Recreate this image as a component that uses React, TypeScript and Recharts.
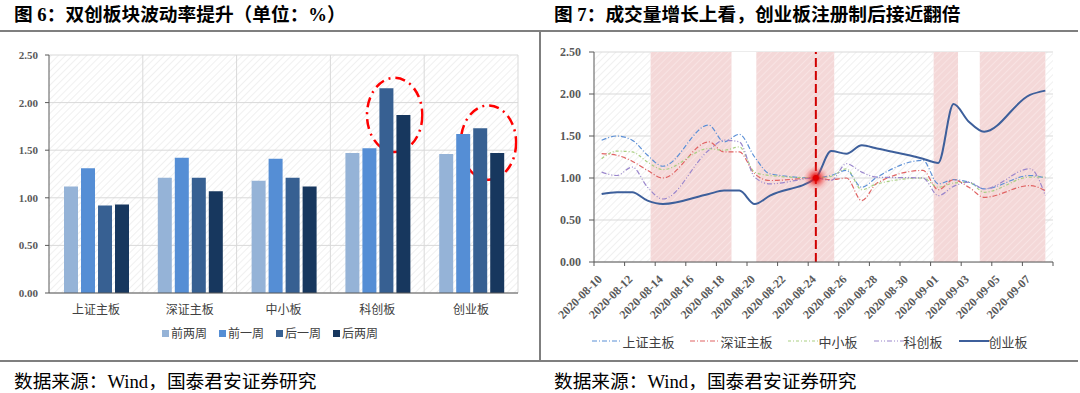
import React from 'react';
import {
  BarChart, Bar, LineChart, Line, XAxis, YAxis, CartesianGrid, Legend,
  ReferenceLine, ReferenceArea, ReferenceDot,
} from 'recharts';

const SERIF = "'Liberation Serif', 'Noto Sans CJK SC', serif";
const AXIS = '#595959';
const GRID = '#d9d9d9';

// ---------- Figure 6 data ----------
const boards = ['上证主板', '深证主板', '中小板', '科创板', '创业板'];
const weekLabels = ['前两周', '前一周', '后一周', '后两周'];
const weekColors = ['#95B3D7', '#558ED5', '#376092', '#17375E'];
const vol2WeeksBefore = [1.12, 1.21, 1.18, 1.47, 1.46];
const vol1WeekBefore = [1.31, 1.42, 1.41, 1.52, 1.67];
const vol1WeekAfter = [0.92, 1.21, 1.21, 2.15, 1.73];
const vol2WeeksAfter = [0.93, 1.07, 1.12, 1.87, 1.47];
const valueTicks = [0, 0.5, 1, 1.5, 2, 2.5];
const highlightBoards = ['科创板', '创业板'];
const highlightLow = [1.48, 1.19];
const highlightHigh = [2.26, 1.97];

const weekValues = [vol2WeeksBefore, vol1WeekBefore, vol1WeekAfter, vol2WeeksAfter];
const barData = boards.map((b, i) => {
  const row: any = { board: b };
  weekLabels.forEach((w, k) => { row[w] = weekValues[k][i]; });
  return row;
});

// ---------- Figure 7 data ----------
const tradeDates = [
  '2020-08-10', '2020-08-11', '2020-08-12', '2020-08-13', '2020-08-14',
  '2020-08-17', '2020-08-18', '2020-08-19', '2020-08-20', '2020-08-21',
  '2020-08-24', '2020-08-25', '2020-08-26', '2020-08-27', '2020-08-28',
  '2020-08-31', '2020-09-01', '2020-09-02', '2020-09-03', '2020-09-04',
  '2020-09-07', '2020-09-08',
];
const seriesNames = ['上证主板', '深证主板', '中小板', '科创板', '创业板'];
const shMain = [1.45, 1.50, 1.45, 1.27, 1.14, 1.63, 1.43, 1.52, 1.25, 1.05, 1.00, 1.03, 1.09, 0.89, 1.01, 1.21, 0.93, 0.98, 0.95, 0.87, 1.03, 1.00];
const szMain = [1.29, 1.27, 1.20, 1.09, 1.00, 1.43, 1.31, 1.31, 1.05, 0.97, 1.00, 0.98, 1.00, 0.73, 0.94, 1.09, 0.86, 0.98, 0.89, 0.77, 0.91, 0.85];
const smeBoard = [1.23, 1.32, 1.31, 1.19, 1.10, 1.35, 1.33, 1.37, 1.07, 1.03, 1.00, 1.02, 1.11, 0.86, 0.93, 1.00, 0.89, 0.94, 0.95, 0.83, 1.01, 1.01];
const starBoard = [1.07, 1.03, 1.13, 0.89, 0.75, 1.33, 1.45, 1.43, 1.01, 0.93, 1.00, 0.97, 1.17, 1.07, 1.01, 1.00, 0.79, 0.90, 0.95, 0.87, 1.11, 0.79];
const chiNext = [0.81, 0.83, 0.83, 0.73, 0.69, 0.81, 0.85, 0.85, 0.69, 0.79, 1.00, 1.32, 1.29, 1.39, 1.35, 1.23, 1.18, 1.88, 1.67, 1.55, 1.99, 2.04];
const seriesColors = ['#5B8FD6', '#E06262', '#A9CF82', '#9A86CC', '#3D5F9B'];
const seriesDash = ['5 2 1 2', '5 2 1 2', '3 2 1 2', '5 2 1 2 1 2', undefined];
const seriesWidth = [1.2, 1.2, 1.2, 1.2, 2];
const dateTickLabels = [
  '2020-08-10', '2020-08-12', '2020-08-14', '2020-08-16', '2020-08-18',
  '2020-08-20', '2020-08-22', '2020-08-24', '2020-08-26', '2020-08-28',
  '2020-08-30', '2020-09-01', '2020-09-03', '2020-09-05', '2020-09-07',
];
const eventDate = '2020-08-24';
const eventValue = 1.0;
// shaded periods, in days counted from 2020-08-10
const shadedFrom = [3.2, 10.1, 21.7, 24.7];
const shadedTo = [8.5, 15.2, 23.3, 29.0];
const plainFrom = [8.5, 23.3];
const plainTo = [10.1, 24.7];

const seriesValues = [shMain, szMain, smeBoard, starBoard, chiNext];
const BASE = new Date(tradeDates[0] + 'T00:00:00Z').getTime();
const dayOf = (s: string) => Math.round((new Date(s + 'T00:00:00Z').getTime() - BASE) / 86400000);
const labelDays = dateTickLabels.map(dayOf);
const boundaryDays = [...labelDays.map((d) => d - 0.5), labelDays[labelDays.length - 1] + 1.5];
const lineData = tradeDates.map((d, i) => {
  const row: any = { day: dayOf(d) };
  seriesNames.forEach((n, k) => { row[n] = seriesValues[k][i]; });
  return row;
});

// ---------- components ----------
const BarLegend = () => (
  <div style={{ display: 'flex', justifyContent: 'center', alignItems: 'center', height: 20, fontFamily: SERIF, fontSize: 12, color: '#404040' }}>
    {weekLabels.map((w, i) => (
      <span key={w} style={{ display: 'flex', alignItems: 'center', marginRight: i < weekLabels.length - 1 ? 12 : 0 }}>
        <span style={{ width: 7, height: 7, background: weekColors[i], marginRight: 2, display: 'inline-block' }} />
        {w}
      </span>
    ))}
  </div>
);

const LineLegend = () => (
  <div style={{ display: 'flex', justifyContent: 'center', alignItems: 'center', height: 20, fontFamily: SERIF, fontSize: 13, color: '#404040' }}>
    {seriesNames.map((n, i) => (
      <span key={n} style={{ display: 'flex', alignItems: 'center', marginRight: i < seriesNames.length - 1 ? 16 : 0 }}>
        <svg width={30} height={8} style={{ display: 'block' }}>
          <line x1={0} y1={4} x2={30} y2={4} stroke={seriesColors[i]} strokeWidth={seriesWidth[i]} strokeDasharray={seriesDash[i]} />
        </svg>
        {n}
      </span>
    ))}
  </div>
);

const DateTick = (props: any) => {
  const { x, y, payload } = props;
  const v = payload.value;
  if (!Number.isInteger(v)) {
    return <line x1={x} y1={y} x2={x} y2={y + 4} stroke={AXIS} strokeWidth={1} />;
  }
  const idx = labelDays.indexOf(v);
  const ay = y + 18;
  return (
    <text x={x + 1} y={ay} textAnchor="end" transform={`rotate(-45 ${x + 1} ${ay})`} fontSize={12} fontWeight="bold" fill={AXIS} fontFamily={SERIF}>
      {dateTickLabels[idx]}
    </text>
  );
};

const ellipseShape = (p: any) => (
  <ellipse
    cx={p.x + p.width * 0.685}
    cy={p.y + p.height / 2}
    rx={p.width * 0.295}
    ry={p.height / 2}
    fill="none"
    stroke="#FF0000"
    strokeWidth={2.5}
    strokeDasharray="10 5 2 5"
  />
);

const glowShape = (p: any) => (
  <g>
    <circle cx={p.cx} cy={p.cy} r={13} fill="url(#glowRed)" />
    <circle cx={p.cx} cy={p.cy} r={3} fill="#E00000" />
  </g>
);

const fmt = (v: number) => v.toFixed(2);

export default function App() {
  return (
    <div style={{ position: 'absolute', left: 0, top: 0, width: 1080, height: 393, background: '#fff', overflow: 'hidden' }}>
      <svg width={0} height={0} style={{ position: 'absolute' }}>
        <defs>
          <pattern id="hatchGray" width={5} height={5} patternUnits="userSpaceOnUse" patternTransform="rotate(45)">
            <rect width={5} height={5} fill="#ffffff" />
            <line x1={0} y1={0} x2={0} y2={5} stroke="#f0f0f0" strokeWidth={2} />
          </pattern>
          <pattern id="hatchPink" width={5} height={5} patternUnits="userSpaceOnUse" patternTransform="rotate(45)">
            <rect width={5} height={5} fill="#F4D8D8" />
            <line x1={0} y1={0} x2={0} y2={5} stroke="#F8E3E3" strokeWidth={2} />
          </pattern>
          <radialGradient id="glowRed">
            <stop offset="0%" stopColor="#E00000" stopOpacity={1} />
            <stop offset="30%" stopColor="#E81010" stopOpacity={0.75} />
            <stop offset="65%" stopColor="#F04040" stopOpacity={0.3} />
            <stop offset="100%" stopColor="#FF8080" stopOpacity={0} />
          </radialGradient>
        </defs>
      </svg>

      {/* titles */}
      <div style={{ position: 'absolute', left: 14, top: 5, fontFamily: SERIF, fontSize: 18.7, fontWeight: 'bold', lineHeight: '19px', color: '#000', whiteSpace: 'nowrap' }}>
        图 6：双创板块波动率提升（单位：%）
      </div>
      <div style={{ position: 'absolute', left: 554, top: 5, fontFamily: SERIF, fontSize: 18.7, fontWeight: 'bold', lineHeight: '19px', color: '#000', whiteSpace: 'nowrap' }}>
        图 7：成交量增长上看，创业板注册制后接近翻倍
      </div>

      {/* left chart */}
      <div style={{ position: 'absolute', left: 0, top: 0 }}>
        <BarChart width={540} height={361} data={barData} margin={{ top: 55, right: 22, bottom: 18, left: 8 }} barCategoryGap="16%" barGap={3}>
          <CartesianGrid vertical={false} stroke={GRID} fill="url(#hatchGray)" />
          {boards.map((b) => (
            <ReferenceLine key={b} x={b} position="end" stroke={GRID} />
          ))}
          <XAxis dataKey="board" tickLine={false} tickSize={0} tickMargin={12} height={30} axisLine={{ stroke: AXIS }} tick={{ fontSize: 12, fill: '#404040', fontFamily: SERIF }} interval={0} />
          <YAxis domain={[0, 2.5]} ticks={valueTicks} tickFormatter={fmt} width={41} tickSize={4} tickMargin={7} axisLine={{ stroke: AXIS }} tickLine={{ stroke: AXIS }} tick={{ fontSize: 11, fontWeight: 'bold', fill: AXIS, fontFamily: SERIF }} />
          {weekLabels.map((w, i) => (
            <Bar key={w} dataKey={w} fill={weekColors[i]} isAnimationActive={false} />
          ))}
          {highlightBoards.map((b, i) => (
            <ReferenceArea key={b} x1={b} x2={b} y1={highlightLow[i]} y2={highlightHigh[i]} shape={ellipseShape} />
          ))}
          <Legend verticalAlign="bottom" content={<BarLegend />} wrapperStyle={{ left: 0, width: 540 }} />
        </BarChart>
      </div>

      {/* right chart */}
      <div style={{ position: 'absolute', left: 540, top: 0 }}>
        <LineChart width={540} height={361} data={lineData} margin={{ top: 52, right: 27, bottom: 10, left: 10 }}>
          <CartesianGrid vertical={false} stroke={GRID} fill="url(#hatchGray)" />
          {shadedFrom.map((f, i) => (
            <ReferenceArea key={'s' + i} x1={f} x2={shadedTo[i]} fill="url(#hatchPink)" fillOpacity={1} stroke="none" />
          ))}
          {plainFrom.map((f, i) => (
            <ReferenceArea key={'p' + i} x1={f} x2={plainTo[i]} fill="#ffffff" fillOpacity={1} stroke="none" />
          ))}
          <XAxis dataKey="day" type="number" domain={[-0.5, 29.5]} ticks={[...boundaryDays, ...labelDays]} interval={0} tickLine={false} tickSize={0} tickMargin={0} height={69} axisLine={{ stroke: AXIS }} tick={<DateTick />} allowDataOverflow />
          <YAxis domain={[0, 2.5]} ticks={valueTicks} tickFormatter={fmt} width={44} tickSize={5} tickMargin={8} axisLine={{ stroke: AXIS }} tickLine={{ stroke: AXIS }} tick={{ fontSize: 12, fontWeight: 'bold', fill: AXIS, fontFamily: SERIF }} />
          {seriesNames.map((n, i) => (
            <Line key={n} dataKey={n} type="monotone" stroke={seriesColors[i]} strokeWidth={seriesWidth[i]} strokeDasharray={seriesDash[i]} dot={false} activeDot={false} isAnimationActive={false} />
          ))}
          <ReferenceLine x={dayOf(eventDate)} stroke="#D00000" strokeWidth={2} strokeDasharray="9 4" />
          <ReferenceDot x={dayOf(eventDate)} y={eventValue} r={13} shape={glowShape} />
          <Legend verticalAlign="bottom" content={<LineLegend />} wrapperStyle={{ left: 0, width: 540 }} />
        </LineChart>
      </div>

      {/* frame */}
      <div style={{ position: 'absolute', left: 0, top: 30, width: 1078, height: 2, background: '#7f7f7f' }} />
      <div style={{ position: 'absolute', left: 539, top: 30, width: 2, height: 332, background: '#7f7f7f' }} />
      <div style={{ position: 'absolute', left: 0, top: 360, width: 1078, height: 2, background: '#7f7f7f' }} />

      {/* sources */}
      <div style={{ position: 'absolute', left: 14, top: 372, fontFamily: SERIF, fontSize: 18.7, lineHeight: '19px', color: '#000', whiteSpace: 'nowrap' }}>
        数据来源：Wind，国泰君安证券研究
      </div>
      <div style={{ position: 'absolute', left: 554, top: 372, fontFamily: SERIF, fontSize: 18.7, lineHeight: '19px', color: '#000', whiteSpace: 'nowrap' }}>
        数据来源：Wind，国泰君安证券研究
      </div>
    </div>
  );
}
